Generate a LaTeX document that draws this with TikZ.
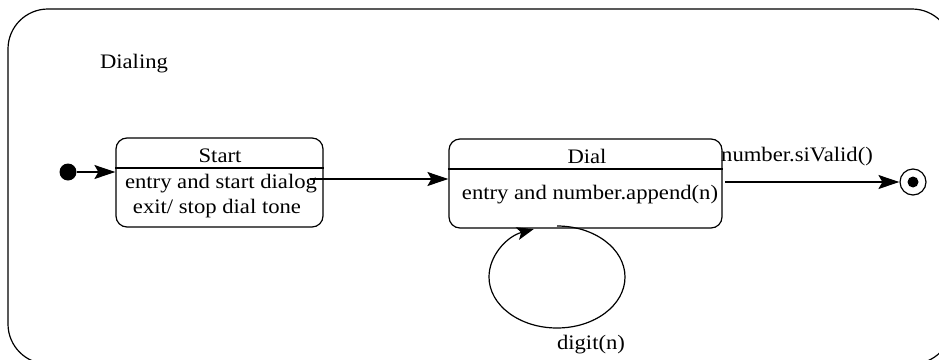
\documentclass[tikz,border=0pt]{standalone}
\usepackage{fontspec}
\setmainfont[FakeStretch=1.1]{Liberation Serif}
\usetikzlibrary{arrows.meta}
\begin{document}
\begin{tikzpicture}[x=1pt,y=1pt, line width=1.2pt,
  lbl/.style={font=\fontsize{20.6}{23}\selectfont, inner sep=0pt},
  statebox/.style={draw, rounded corners=11pt, minimum height=89pt, inner sep=0pt},
  bigtip/.style={-{Stealth[length=21pt,width=14pt,inset=4pt]}},
  smalltip/.style={-{Stealth[length=17pt,width=13pt,inset=4pt]}}]
\useasboundingbox (0,0) rectangle (939,-359);
\clip (0,0) rectangle (939,-359);
% outer composite state
\draw[rounded corners=40pt] (8,-9) rectangle (952,-364);
\node[lbl] (dialing) at (134,-64) {Dialing};
% initial
\node[fill, circle, minimum size=17pt, inner sep=0pt] (init) at (68,-172) {};
% Start state
\node[statebox, minimum width=207pt] (start) at (219.5,-182.5) {};
\draw (start.west |- 0,-168) -- (start.east |- 0,-168);
\node[lbl] (starttitle) at (220,-156) {Start};
\node[lbl] (startentry) at (221,-184) {entry and start dialog};
\node[lbl] (startexit) at (217,-209) {exit/ stop dial tone};
% Dial state
\node[statebox, minimum width=273pt] (dial) at (585.5,-183.5) {};
\draw (dial.west |- 0,-169) -- (dial.east |- 0,-169);
\node[lbl] (dialtitle) at (587,-156) {Dial};
\node[lbl] (dialentry) at (590,-195) {entry and number.append(n)};
% final
\node[draw, circle, minimum size=26pt, inner sep=0pt] (final) at (913,-182) {};
\node[fill, circle, minimum size=11pt, inner sep=0pt] (finaldot) at (final) {};
% transitions
\draw[bigtip] (init.east) -- (start.west |- init.east);
\coordinate (s1) at (310,-179);
\draw[bigtip] (s1) -- (dial.west |- s1);
\coordinate (d1) at (725,-182);
\draw[bigtip] (d1) -- (final.west);
\node[lbl] (guard) at (797,-157) {number.siValid()};
% self loop
\coordinate (loopstart) at (557,-226);
\draw[smalltip] (loopstart) arc[start angle=90, end angle=-250, x radius=68, y radius=51];
\node[lbl] (looplbl) at (591,-345) {digit(n)};
\end{tikzpicture}
\end{document}
